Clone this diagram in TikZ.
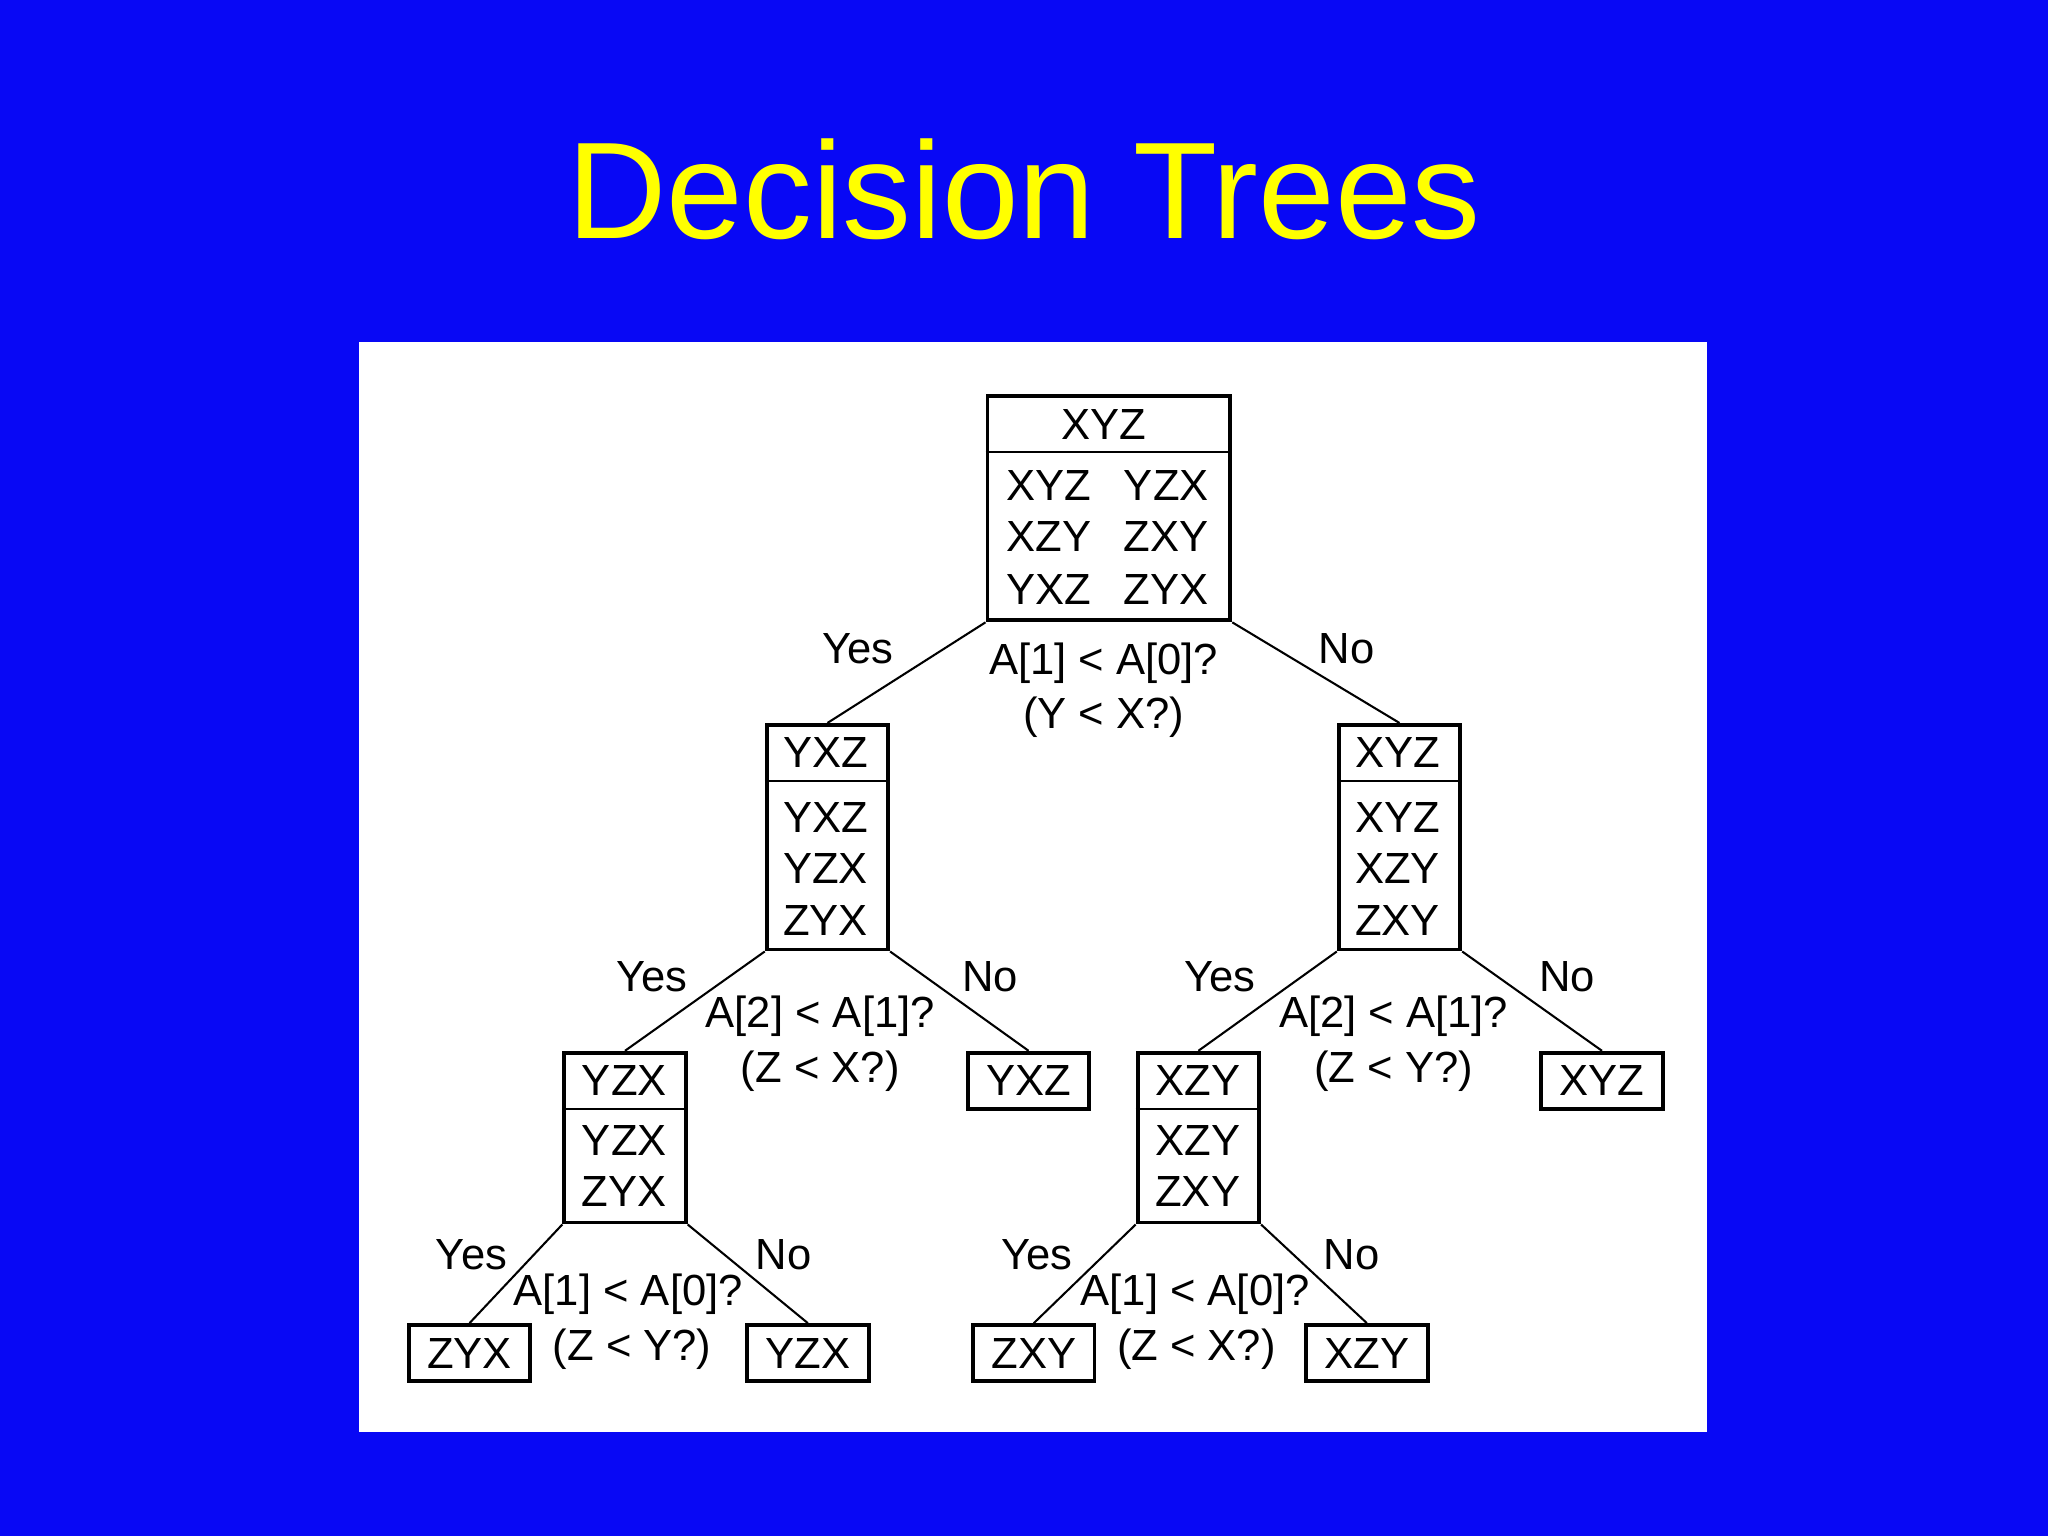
\documentclass[tikz,border=0pt]{standalone}
\usepackage{fontspec}
\setmainfont{Liberation Sans}
\definecolor{bg}{RGB}{8,8,245}
\definecolor{ttl}{RGB}{255,255,0}
\begin{document}
\begin{tikzpicture}[x=0.02cm,y=-0.02cm,
  box/.style={draw=black,line width=1.7pt,inner sep=0pt,minimum width=1.86cm},
  lbl/.style={inner sep=0pt,font=\fontsize{19}{22}\selectfont},
  edge/.style={line width=0.9pt}]
\useasboundingbox (0,0) rectangle (1568,1176);
\fill[bg] (0,0) rectangle (1568,1176);
\fill[white] (275,262) rectangle (1307,1096);
\node[text=ttl,font=\fontsize{60}{70}\selectfont] (title) at (784,145) {Decision Trees};
% boxes
\node[box,minimum width=3.72cm,minimum height=3.44cm] (r) at (849,389) {};
\node[box,minimum height=3.44cm] (a) at (633.5,641) {};
\node[box,minimum height=3.44cm] (b) at (1071.5,641) {};
\node[box,minimum height=2.6cm] (c) at (478.5,871) {};
\node[box,minimum height=0.86cm] (d) at (787.5,827.5) {};
\node[box,minimum height=2.6cm] (e) at (917.5,871) {};
\node[box,minimum height=0.86cm] (f) at (1226.5,827.5) {};
\node[box,minimum height=0.86cm] (g) at (359.5,1036) {};
\node[box,minimum height=0.86cm] (h) at (618.5,1036) {};
\node[box,minimum height=0.86cm] (i) at (791.5,1036) {};
\node[box,minimum height=0.86cm] (j) at (1046.5,1036) {};
% dividers
\draw[line width=0.9pt] (r.west|-0,346) -- (r.east|-0,346);
\draw[line width=0.9pt] (a.west|-0,598) -- (a.east|-0,598);
\draw[line width=0.9pt] (b.west|-0,598) -- (b.east|-0,598);
\draw[line width=0.9pt] (c.west|-0,849) -- (c.east|-0,849);
\draw[line width=0.9pt] (e.west|-0,849) -- (e.east|-0,849);
% texts
\node[lbl] at (845,325) {XYZ};
\node[lbl] at (803,372) {XYZ}; \node[lbl] at (893,372) {YZX};
\node[lbl] at (803,411) {XZY}; \node[lbl] at (893,411) {ZXY};
\node[lbl] at (803,451) {YXZ}; \node[lbl] at (893,451) {ZYX};
\node[lbl] at (632,576) {YXZ};
\node[lbl] at (632,626) {YXZ}; \node[lbl] at (632,665) {YZX}; \node[lbl] at (632,705) {ZYX};
\node[lbl] at (1070,576) {XYZ};
\node[lbl] at (1070,626) {XYZ}; \node[lbl] at (1070,665) {XZY}; \node[lbl] at (1070,705) {ZXY};
\node[lbl] at (478,827) {YZX};
\node[lbl] at (478,873) {YZX}; \node[lbl] at (478,912) {ZYX};
\node[lbl] at (917,827) {XZY};
\node[lbl] at (917,873) {XZY}; \node[lbl] at (917,912) {ZXY};
\node[lbl] at (d) {YXZ};
\node[lbl] at (f) {XYZ};
\node[lbl] at (g) {ZYX};
\node[lbl] at (h) {YZX};
\node[lbl] at (i) {ZXY};
\node[lbl] at (j) {XZY};
% edges
\draw[edge] (r.south west) -- (a.north);
\draw[edge] (r.south east) -- (b.north);
\draw[edge] (a.south west) -- (c.north);
\draw[edge] (a.south east) -- (d.north);
\draw[edge] (b.south west) -- (e.north);
\draw[edge] (b.south east) -- (f.north);
\draw[edge] (c.south west) -- (g.north);
\draw[edge] (c.south east) -- (h.north);
\draw[edge] (e.south west) -- (i.north);
\draw[edge] (e.south east) -- (j.north);
% edge labels
\node[lbl] at (657,497) {Yes}; \node[lbl] at (1031,497) {No};
\node[lbl] at (845,508) {A[1] < A[0]?}; \node[lbl] at (845,549) {(Y < X?)};
\node[lbl] at (499,748) {Yes}; \node[lbl] at (758,748) {No};
\node[lbl] at (628,778) {A[2] < A[1]?}; \node[lbl] at (628,820) {(Z < X?)};
\node[lbl] at (934,748) {Yes}; \node[lbl] at (1200,748) {No};
\node[lbl] at (1067,778) {A[2] < A[1]?}; \node[lbl] at (1067,820) {(Z < Y?)};
\node[lbl] at (361,961) {Yes}; \node[lbl] at (600,961) {No};
\node[lbl] at (481,991) {A[1] < A[0]?}; \node[lbl] at (484,1033) {(Z < Y?)};
\node[lbl] at (794,961) {Yes}; \node[lbl] at (1035,961) {No};
\node[lbl] at (915,991) {A[1] < A[0]?}; \node[lbl] at (916,1033) {(Z < X?)};
\end{tikzpicture}
\end{document}
